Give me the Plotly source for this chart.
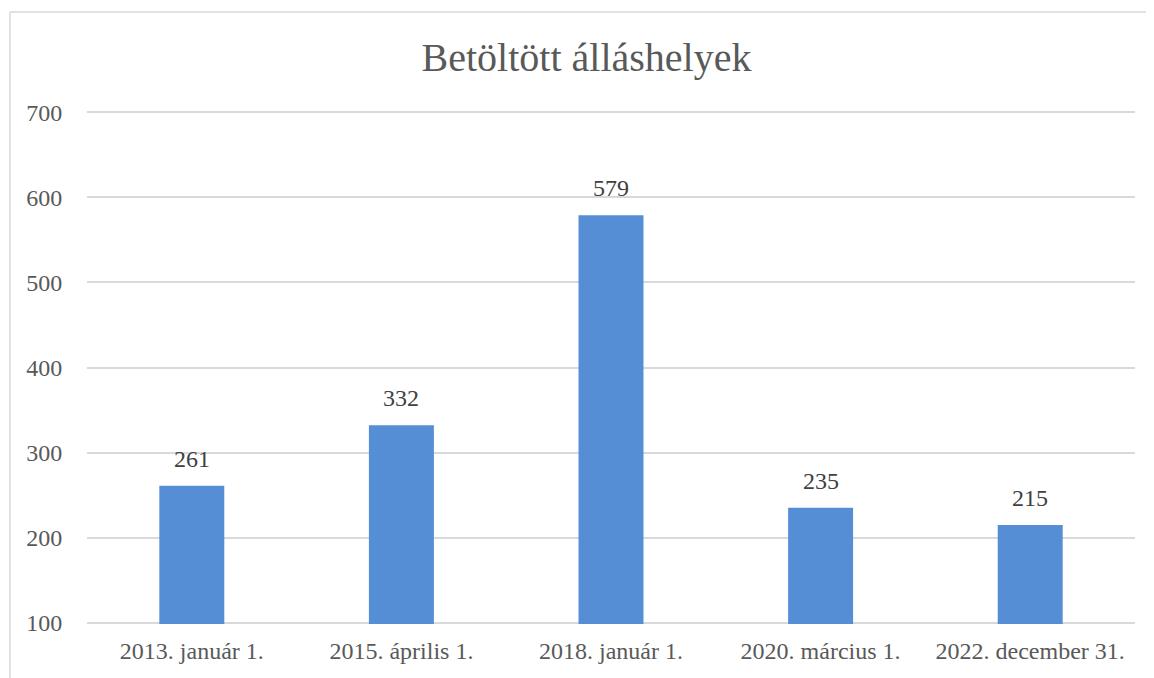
import plotly.graph_objects as go

categories = ["2013. január 1.", "2015. április 1.", "2018. január 1.", "2020. március 1.", "2022. december 31."]
values = [261, 332, 579, 235, 215]
y_ticks = [100, 200, 300, 400, 500, 600, 700]

FONT = "Liberation Serif"
TXT = "#595959"

fig = go.Figure()
fig.add_trace(go.Bar(
    x=categories, y=values, base=0, marker=dict(color="#558ED5", line=dict(width=0)),
    width=0.31, hoverinfo="x+y",
))
for c, v in zip(categories, values):
    fig.add_annotation(x=c, y=v, text=str(v), showarrow=False, yanchor="bottom",
                       yshift=12, font=dict(family=FONT, size=24, color="#404040"))

W, H = 1146, 670
l, r, t, b = 79, 19, 103, 54
pw, ph = W - l - r, H - t - b
bx = (2 - l) / pw
by = (H - b - 4) / ph
fig.add_shape(type="line", xref="paper", yref="paper", x0=bx, x1=bx, y0=by, y1=-0.2,
              line=dict(color="#D9D9D9", width=1.5))
fig.add_shape(type="line", xref="paper", yref="paper", x0=bx, x1=1.1, y0=by, y1=by,
              line=dict(color="#D9D9D9", width=1.5))

fig.update_layout(
    width=W, height=H,
    margin=dict(l=l, r=r, t=t, b=b),
    paper_bgcolor="white", plot_bgcolor="white",
    title=dict(text="Betöltött álláshelyek", x=578.5 / W, xanchor="center", y=1 - 49 / H, yanchor="middle",
               font=dict(family=FONT, size=40, color=TXT)),
    showlegend=False,
    xaxis=dict(showgrid=False, showline=False, ticks="outside", ticklen=5, tickcolor="white",
               tickfont=dict(family=FONT, size=24, color=TXT)),
    yaxis=dict(range=[98.5, 701.5], tickvals=y_ticks, showgrid=True, gridcolor="#D9D9D9", gridwidth=1.5,
               zeroline=False, showline=False, ticks="outside", ticklen=19, tickcolor="white",
               tickfont=dict(family=FONT, size=24, color=TXT)),
    bargap=0.69,
)
fig.write_html("out.html")
